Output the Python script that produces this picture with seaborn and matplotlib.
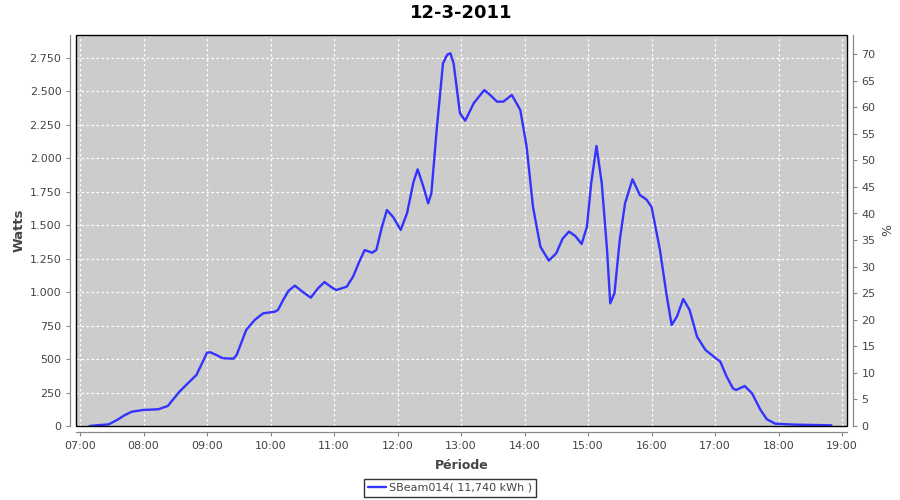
import pandas as pd
import matplotlib
matplotlib.use("Agg")
import matplotlib.pyplot as plt
import matplotlib.dates as mdates
from matplotlib.ticker import FuncFormatter, MultipleLocator
from matplotlib.patches import Rectangle
import seaborn as sns

# values
times = ["07:09", "07:20", "07:27", "07:35", "07:42", "07:49", "08:00", "08:14", "08:23", "08:34",
         "08:42", "08:50", "08:56", "09:00", "09:03", "09:09", "09:15", "09:25", "09:28", "09:37",
         "09:45", "09:53", "10:04", "10:07", "10:12", "10:17", "10:23", "10:30", "10:38", "10:45",
         "10:51", "10:57", "11:02", "11:12", "11:18", "11:24", "11:29", "11:36", "11:40", "11:45",
         "11:50", "11:56", "12:03", "12:09", "12:15", "12:19", "12:24", "12:29", "12:32", "12:37",
         "12:43", "12:47", "12:50", "12:53", "12:59", "13:04", "13:12", "13:22", "13:28", "13:34", "13:40",
         "13:48", "13:56", "14:02", "14:08", "14:15", "14:23", "14:30", "14:36", "14:42", "14:48",
         "14:54", "14:59", "15:03", "15:08", "15:13", "15:18", "15:21", "15:25", "15:30", "15:35",
         "15:42", "15:49", "15:55", "16:00", "16:08", "16:14", "16:19", "16:24", "16:30", "16:36",
         "16:43", "16:51", "17:00", "17:05", "17:11", "17:17", "17:20", "17:28", "17:35", "17:43",
         "17:49", "17:57", "18:16", "18:50"]
watts = [0, 8, 12, 45, 80, 107, 120, 125, 150, 257,
         320, 381, 480, 548, 551, 530, 506, 503, 531, 717,
         792, 842, 854, 867, 942, 1010, 1049, 1005, 959, 1030,
         1076, 1040, 1016, 1041, 1116, 1230, 1315, 1295, 1315, 1480,
         1614, 1560, 1465, 1590, 1820, 1918, 1800, 1664, 1739, 2212,
         2711, 2775, 2785, 2711, 2337, 2282, 2412, 2511, 2470, 2424, 2424,
         2474, 2362, 2088, 1639, 1340, 1236, 1291, 1400, 1453, 1420,
         1360, 1490, 1814, 2093, 1814, 1315, 917, 992, 1390, 1664,
         1844, 1726, 1694, 1639, 1315, 992, 755, 817, 949, 867,
         668, 568, 511, 481, 369, 281, 269, 299, 244, 120,
         50, 17, 10, 5]
series_name = "SBeam014( 11,740 kWh )"
day = "2011-03-12"

df = pd.DataFrame({"Période": pd.to_datetime([day + " " + t for t in times]), "Watts": watts})

sns.set_style("white")
plt.rcParams["font.family"] = ["DejaVu Sans"]

fig = plt.figure(figsize=(9, 5), dpi=100)
ax = fig.add_axes([76 / 900, 74 / 500, 771 / 900, 391 / 500])
ax.set_facecolor("#cccccc")

sns.lineplot(data=df, x="Période", y="Watts", ax=ax, color="#3333ff", linewidth=1.7, label=series_name)

ax.set_xlim(pd.Timestamp(day + " 06:56:13"), pd.Timestamp(day + " 19:04:43"))
ax.set_ylim(0, 2922)
ax.xaxis.set_major_locator(mdates.HourLocator())
ax.xaxis.set_major_formatter(mdates.DateFormatter("%H:%M"))
ax.yaxis.set_major_locator(MultipleLocator(250))
ax.yaxis.set_major_formatter(FuncFormatter(lambda v, p: f"{int(v):,}".replace(",", ".")))
ax.grid(True, color="white", linestyle=(0, (2, 2)), linewidth=0.9)

ax2 = ax.twinx()
ax2.set_ylim(0, 73.6)
ax2.yaxis.set_major_locator(MultipleLocator(5))
ax2.set_ylabel("%", fontsize=9, color="#444444")

for a in (ax, ax2):
    for s in a.spines.values():
        s.set_visible(False)
    a.tick_params(labelsize=8, colors="#444444", length=3, width=0.8, color="#888888", direction="out")
ax.spines["left"].set_visible(True)
ax.spines["bottom"].set_visible(True)
ax.spines["left"].set_position(("outward", 4))
ax.spines["bottom"].set_position(("outward", 4))
ax2.spines["right"].set_visible(True)
ax2.spines["right"].set_position(("outward", 4))
for s in (ax.spines["left"], ax.spines["bottom"], ax2.spines["right"]):
    s.set_color("#888888")
    s.set_linewidth(0.9)
ax.tick_params(left=True, bottom=True)
ax2.tick_params(right=True)

ax.add_patch(Rectangle((0, 0), 1, 1, transform=ax.transAxes, fill=False,
                       edgecolor="black", linewidth=1.0, clip_on=False, zorder=5))

ax.set_title("12-3-2011", fontsize=13, fontweight="bold", color="black", pad=12)
ax.set_xlabel("Période", fontsize=9, fontweight="bold", color="#444444", labelpad=6)
ax.set_ylabel("Watts", fontsize=9.5, fontweight="bold", color="#444444", labelpad=3)

ax.get_legend().remove()
handles, labels = ax.get_legend_handles_labels()
leg = fig.legend(handles, labels, loc="lower center", bbox_to_anchor=(0.5, 0.0), fontsize=8,
                 frameon=True, fancybox=False, shadow=False, handlelength=1.6,
                 borderpad=0.35, handletextpad=0.3, borderaxespad=0.3)
leg.get_frame().set_edgecolor("black")
leg.get_frame().set_linewidth(1.0)
for t in leg.get_texts():
    t.set_color("#444444")

fig.savefig("out.png", dpi=100)
